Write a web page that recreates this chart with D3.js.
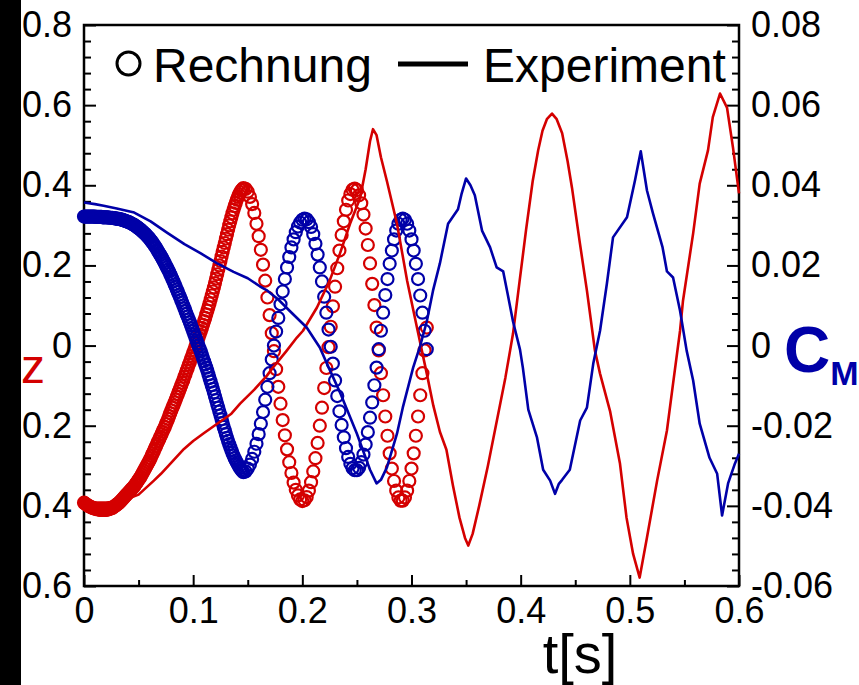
<!DOCTYPE html>
<html>
<head>
<meta charset="utf-8">
<script src="https://cdn.jsdelivr.net/npm/d3@7"></script>
<style>
  body { margin: 0; background: #fff; }
  svg { display: block; }
</style>
</head>
<body>
<div class="chart"></div>
<script>
var width = 859,
    height = 685;

var red = "#d40000",
    blue = "#0000a8";

// Rechnung, part 1: one value every 1 ms from t = 0 to 0.146
var rechStartA = 0,
    rechStepA = 0.001;

var rechZA = [
  -0.392,-0.394,-0.396,-0.398,-0.400,-0.401,-0.403,-0.404,-0.405,-0.406,
  -0.407,-0.408,-0.408,-0.409,-0.409,-0.410,-0.410,-0.410,-0.410,-0.410,
  -0.410,-0.409,-0.409,-0.408,-0.407,-0.406,-0.405,-0.403,-0.401,-0.399,
  -0.397,-0.395,-0.393,-0.390,-0.387,-0.384,-0.381,-0.378,-0.375,-0.372,
  -0.369,-0.366,-0.363,-0.360,-0.357,-0.354,-0.351,-0.347,-0.343,-0.339,
  -0.335,-0.331,-0.327,-0.322,-0.317,-0.312,-0.307,-0.302,-0.297,-0.292,
  -0.287,-0.281,-0.275,-0.269,-0.263,-0.257,-0.251,-0.245,-0.239,-0.233,
  -0.227,-0.221,-0.215,-0.209,-0.203,-0.196,-0.190,-0.183,-0.176,-0.169,
  -0.162,-0.155,-0.149,-0.142,-0.135,-0.128,-0.121,-0.114,-0.107,-0.100,
  -0.093,-0.086,-0.078,-0.071,-0.063,-0.056,-0.048,-0.041,-0.033,-0.026,
  -0.018,-0.011,-0.003,0.005,0.012,0.020,0.028,0.036,0.044,0.052,
  0.061,0.069,0.078,0.087,0.096,0.105,0.115,0.125,0.135,0.145,
  0.156,0.167,0.178,0.189,0.200,0.211,0.222,0.234,0.245,0.256,
  0.267,0.278,0.289,0.300,0.310,0.320,0.330,0.339,0.348,0.356,
  0.364,0.371,0.377,0.382,0.387,0.390,0.393
];

var rechCMA = [
  0.0322,0.0322,0.0322,0.0322,0.0322,0.0322,0.0322,0.0322,0.0322,0.0322,
  0.0322,0.0321,0.0321,0.0321,0.0321,0.0321,0.0321,0.0320,0.0320,0.0320,
  0.0320,0.0320,0.0320,0.0319,0.0319,0.0319,0.0319,0.0318,0.0318,0.0317,
  0.0317,0.0316,0.0316,0.0315,0.0315,0.0314,0.0313,0.0312,0.0311,0.0310,
  0.0309,0.0308,0.0307,0.0305,0.0304,0.0302,0.0301,0.0299,0.0297,0.0295,
  0.0293,0.0291,0.0289,0.0286,0.0284,0.0281,0.0279,0.0276,0.0273,0.0270,
  0.0267,0.0263,0.0260,0.0256,0.0252,0.0248,0.0244,0.0239,0.0235,0.0230,
  0.0226,0.0221,0.0216,0.0211,0.0206,0.0200,0.0195,0.0189,0.0184,0.0178,
  0.0172,0.0166,0.0160,0.0153,0.0147,0.0140,0.0134,0.0127,0.0121,0.0114,
  0.0107,0.0100,0.0093,0.0086,0.0079,0.0072,0.0065,0.0058,0.0051,0.0043,
  0.0036,0.0028,0.0021,0.0013,0.0006,-0.0001,-0.0008,-0.0015,-0.0023,-0.0031,
  -0.0039,-0.0047,-0.0055,-0.0063,-0.0072,-0.0081,-0.0090,-0.0099,-0.0108,-0.0117,
  -0.0127,-0.0136,-0.0146,-0.0155,-0.0165,-0.0174,-0.0184,-0.0193,-0.0203,-0.0212,
  -0.0221,-0.0230,-0.0238,-0.0246,-0.0254,-0.0261,-0.0268,-0.0275,-0.0281,-0.0287,
  -0.0292,-0.0297,-0.0302,-0.0306,-0.0310,-0.0313,-0.0316
];

// Rechnung, part 2: one value every 2 ms from t = 0.148 to 0.314
var rechStartB = 0.148,
    rechStepB = 0.002;

var rechZB = [
  0.391,0.384,0.371,0.353,0.331,0.304,
  0.273,0.239,0.202,0.162,0.120,0.076,0.031,-0.014,-0.059,-0.103,
  -0.145,-0.186,-0.224,-0.259,-0.291,-0.318,-0.342,-0.360,-0.374,-0.384,
  -0.388,-0.386,-0.378,-0.362,-0.341,-0.314,-0.281,-0.243,-0.200,-0.155,
  -0.106,-0.056,-0.004,0.047,0.098,0.147,0.193,0.237,0.276,0.310,
  0.339,0.362,0.378,0.389,0.392,0.388,0.375,0.355,0.327,0.292,
  0.251,0.205,0.154,0.101,0.045,-0.012,-0.069,-0.124,-0.177,-0.225,
  -0.269,-0.307,-0.338,-0.362,-0.379,-0.387,-0.387,-0.379,-0.362,-0.338,
  -0.307,-0.269,-0.225,-0.177,-0.124,-0.069,-0.012,0.045
];

var rechCMB = [
  -0.0314,-0.0307,-0.0297,-0.0283,-0.0265,-0.0245,
  -0.0221,-0.0195,-0.0166,-0.0135,-0.0103,-0.0069,-0.0035,0.0000,0.0035,0.0069,
  0.0103,0.0135,0.0166,0.0195,0.0221,0.0245,0.0265,0.0283,0.0297,0.0307,
  0.0314,0.0317,0.0315,0.0308,0.0296,0.0278,0.0254,0.0227,0.0195,0.0160,
  0.0122,0.0082,0.0040,-0.0003,-0.0045,-0.0087,-0.0126,-0.0164,-0.0198,-0.0229,
  -0.0256,-0.0278,-0.0295,-0.0306,-0.0311,-0.0311,-0.0305,-0.0291,-0.0272,-0.0247,
  -0.0216,-0.0180,-0.0142,-0.0099,-0.0055,-0.0009,0.0037,0.0082,0.0126,0.0166,
  0.0204,0.0237,0.0265,0.0287,0.0304,0.0314,0.0317,0.0314,0.0304,0.0287,
  0.0265,0.0237,0.0204,0.0166,0.0125,0.0082,0.0037,-0.0009
];

// Experiment: [t, value]
var expZ = [
  [0.000,-0.392],[0.020,-0.392],[0.035,-0.388],[0.050,-0.372],[0.064,-0.337],
  [0.0705,-0.320],[0.080,-0.292],[0.0916,-0.258],[0.100,-0.238],[0.110,-0.218],
  [0.1246,-0.190],[0.135,-0.170],[0.143,-0.145],[0.156,-0.110],[0.1676,-0.075],
  [0.173,-0.055],[0.185,-0.015],[0.195,0.020],[0.2006,0.037],[0.2134,0.095],
  [0.225,0.162],[0.2345,0.230],[0.2437,0.304],[0.253,0.369],[0.258,0.440],
  [0.262,0.510],[0.2647,0.540],[0.268,0.525],[0.272,0.470],[0.2775,0.410],
  [0.2867,0.304],[0.296,0.162],[0.305,0.045],[0.314,-0.070],[0.320,-0.150],
  [0.326,-0.215],[0.332,-0.260],[0.338,-0.350],[0.344,-0.430],[0.349,-0.480],
  [0.352,-0.499],[0.356,-0.470],[0.362,-0.400],[0.370,-0.300],[0.378,-0.190],
  [0.386,-0.080],[0.393,0.030],[0.399,0.160],[0.405,0.290],[0.411,0.410],
  [0.416,0.487],[0.420,0.536],[0.424,0.565],[0.4287,0.579],[0.433,0.565],
  [0.438,0.530],[0.443,0.460],[0.447,0.394],[0.454,0.260],[0.4607,0.137],
  [0.468,-0.012],[0.4727,-0.070],[0.482,-0.165],[0.491,-0.295],[0.497,-0.430],
  [0.503,-0.520],[0.509,-0.579],[0.5157,-0.479],[0.525,-0.337],[0.534,-0.212],
  [0.5396,-0.095],[0.546,0.037],[0.5487,0.112],[0.558,0.280],[0.564,0.404],
  [0.5716,0.487],[0.576,0.570],[0.5826,0.629],[0.589,0.594],[0.5945,0.494],
  [0.600,0.380]
];

var expCM = [
  [0.000,0.0357],[0.010,0.0353],[0.018,0.0349],[0.030,0.0342],[0.046,0.0332],
  [0.061,0.0310],[0.076,0.0282],[0.092,0.0253],[0.107,0.0230],[0.122,0.0205],
  [0.137,0.0184],[0.150,0.0168],[0.161,0.0148],[0.168,0.0137],[0.178,0.0115],
  [0.189,0.0085],[0.204,0.0045],[0.216,-0.0005],[0.225,-0.0060],[0.235,-0.0120],
  [0.250,-0.0220],[0.262,-0.0310],[0.268,-0.0344],[0.272,-0.0335],[0.2775,-0.0304],
  [0.2867,-0.0220],[0.292,-0.0155],[0.3015,-0.0055],[0.308,0.0000],[0.314,0.0060],
  [0.3197,0.0137],[0.326,0.0205],[0.3335,0.0304],[0.3426,0.0340],[0.346,0.0380],
  [0.350,0.0417],[0.354,0.0400],[0.358,0.0375],[0.3646,0.0287],[0.372,0.0245],
  [0.378,0.0195],[0.384,0.0185],[0.388,0.0130],[0.393,0.0060],[0.3994,-0.0010],
  [0.402,-0.0055],[0.407,-0.0160],[0.415,-0.0230],[0.4206,-0.0310],[0.427,-0.0337],
  [0.4315,-0.0370],[0.435,-0.0345],[0.438,-0.0335],[0.445,-0.0310],[0.4545,-0.0187],
  [0.4607,-0.0155],[0.4665,-0.0045],[0.4727,0.0037],[0.479,0.0155],[0.4846,0.0270],
  [0.4974,0.0320],[0.5047,0.0412],[0.510,0.0485],[0.5157,0.0387],[0.5212,0.0330],
  [0.530,0.0245],[0.534,0.0185],[0.5396,0.0170],[0.546,0.0087],[0.552,-0.0012],
  [0.558,-0.0087],[0.564,-0.0195],[0.573,-0.0280],[0.580,-0.0320],[0.5845,-0.0424],
  [0.590,-0.0344],[0.5963,-0.0294],[0.600,-0.0270]
];

// Axis ticks and their labels
var xTicks = [0, 0.1, 0.2, 0.3, 0.4, 0.5, 0.6],
    xLabels = ["0", "0.1", "0.2", "0.3", "0.4", "0.5", "0.6"];
var zTicks = [-0.6, -0.4, -0.2, 0, 0.2, 0.4, 0.6, 0.8],
    zLabels = ["-0.6", "-0.4", "-0.2", "0", "0.2", "0.4", "0.6", "0.8"];
var cmTicks = [-0.06, -0.04, -0.02, 0, 0.02, 0.04, 0.06, 0.08],
    cmLabels = ["-0.06", "-0.04", "-0.02", "0", "0.02", "0.04", "0.06", "0.08"];

var font = '"Liberation Sans", Arial, Helvetica, sans-serif';

var plot = { left: 84, right: 739, top: 25, bottom: 586 };

var svg = d3.select(".chart")
  .append("svg")
    .attr("width", width)
    .attr("height", height);

var x = d3.scaleLinear().domain([0, 0.6]).range([plot.left, plot.right]);
var yZ = d3.scaleLinear().domain([-0.6, 0.8]).range([plot.bottom, plot.top]);
var yCM = d3.scaleLinear().domain([-0.06, 0.08]).range([plot.bottom, plot.top]);

// minor tick positions between the labelled ones
var xMinor = d3.range(0.05, 0.6, 0.1);
var zMinor = d3.range(-0.6, 0.8001, 0.04).filter(function(v) { return Math.abs(v / 0.2 - Math.round(v / 0.2)) > 0.01; });
var cmMinor = d3.range(-0.06, 0.08001, 0.004).filter(function(v) { return Math.abs(v / 0.02 - Math.round(v / 0.02)) > 0.01; });

function styleAxis(g) {
  g.select(".domain").remove();
  g.selectAll("line").attr("stroke", "#000").attr("stroke-width", 2);
  g.attr("font-family", font).attr("font-size", 36);
  g.selectAll("text").attr("fill", "#000");
}

// bottom axis
svg.append("g")
  .attr("transform", "translate(0," + plot.bottom + ")")
  .call(d3.axisBottom(x).tickValues(xMinor).tickSize(-6).tickFormat(""))
  .call(styleAxis);
svg.append("g")
  .attr("transform", "translate(0," + plot.bottom + ")")
  .call(d3.axisBottom(x).tickValues(xTicks).tickSize(-11).tickPadding(11)
    .tickFormat(function(d, i) { return xLabels[i]; }))
  .call(styleAxis);

// left axis (z)
svg.append("g")
  .attr("transform", "translate(" + plot.left + ",0)")
  .call(d3.axisLeft(yZ).tickValues(zMinor).tickSize(-7).tickFormat(""))
  .call(styleAxis);
svg.append("g")
  .attr("transform", "translate(" + plot.left + ",0)")
  .call(d3.axisLeft(yZ).tickValues(zTicks).tickSize(-12).tickPadding(12)
    .tickFormat(function(d, i) { return zLabels[i]; }))
  .call(styleAxis);

// right axis (C_M)
svg.append("g")
  .attr("transform", "translate(" + plot.right + ",0)")
  .call(d3.axisRight(yCM).tickValues(cmMinor).tickSize(-7).tickFormat(""))
  .call(styleAxis);
svg.append("g")
  .attr("transform", "translate(" + plot.right + ",0)")
  .call(d3.axisRight(yCM).tickValues(cmTicks).tickSize(-12).tickPadding(12)
    .tickFormat(function(d, i) { return cmLabels[i]; }))
  .call(styleAxis);

// frame
svg.append("rect")
  .attr("x", plot.left)
  .attr("y", plot.top)
  .attr("width", plot.right - plot.left)
  .attr("height", plot.bottom - plot.top)
  .attr("fill", "none")
  .attr("stroke", "#000")
  .attr("stroke-width", 2.5);

// Rechnung circles: join both parts with their time stamps
function withTime(a, startA, stepA, b, startB, stepB) {
  var pts = a.map(function(v, i) { return { t: startA + i * stepA, v: v }; });
  return pts.concat(b.map(function(v, i) { return { t: startB + i * stepB, v: v }; }));
}

var rechZ = withTime(rechZA, rechStartA, rechStepA, rechZB, rechStartB, rechStepB);
var rechCM = withTime(rechCMA, rechStartA, rechStepA, rechCMB, rechStartB, rechStepB);

svg.append("g").selectAll("circle")
  .data(rechZ)
  .enter()
  .append("circle")
  .attr("cx", function(d) { return x(d.t); })
  .attr("cy", function(d) { return yZ(d.v); })
  .attr("r", 6)
  .attr("fill", "none")
  .attr("stroke", red)
  .attr("stroke-width", 2.2);

svg.append("g").selectAll("circle")
  .data(rechCM)
  .enter()
  .append("circle")
  .attr("cx", function(d) { return x(d.t); })
  .attr("cy", function(d) { return yCM(d.v); })
  .attr("r", 6)
  .attr("fill", "none")
  .attr("stroke", blue)
  .attr("stroke-width", 2.2);

// Experiment lines
var lineZ = d3.line()
  .x(function(d) { return x(d[0]); })
  .y(function(d) { return yZ(d[1]); });
var lineCM = d3.line()
  .x(function(d) { return x(d[0]); })
  .y(function(d) { return yCM(d[1]); });

svg.append("path")
  .datum(expZ)
  .attr("d", lineZ)
  .attr("fill", "none")
  .attr("stroke", red)
  .attr("stroke-width", 2.6)
  .attr("stroke-linejoin", "round");

svg.append("path")
  .datum(expCM)
  .attr("d", lineCM)
  .attr("fill", "none")
  .attr("stroke", blue)
  .attr("stroke-width", 2.6)
  .attr("stroke-linejoin", "round");

// legend
svg.append("circle")
  .attr("cx", 128.5)
  .attr("cy", 63.5)
  .attr("r", 11.5)
  .attr("fill", "none")
  .attr("stroke", "#000")
  .attr("stroke-width", 3);
svg.append("text")
  .attr("x", 153)
  .attr("y", 82)
  .attr("font-family", font)
  .attr("font-size", 48)
  .text("Rechnung");
svg.append("line")
  .attr("x1", 398).attr("x2", 468)
  .attr("y1", 64).attr("y2", 64)
  .attr("stroke", "#000")
  .attr("stroke-width", 5);
svg.append("text")
  .attr("x", 483)
  .attr("y", 82)
  .attr("font-family", font)
  .attr("font-size", 48)
  .text("Experiment");

// axis titles
svg.append("text")
  .attr("x", 580)
  .attr("y", 673)
  .attr("text-anchor", "middle")
  .attr("font-family", font)
  .attr("font-size", 56)
  .text("t[s]");

svg.append("text")
  .attr("x", 21)
  .attr("y", 383)
  .attr("font-family", font)
  .attr("font-size", 48)
  .attr("fill", red)
  .text("z");

var cm = svg.append("text")
  .attr("x", 784)
  .attr("y", 372)
  .attr("font-family", font)
  .attr("font-weight", "bold")
  .attr("fill", blue);
cm.append("tspan").attr("font-size", 64).text("C");
cm.append("tspan").attr("font-size", 34).attr("dy", 13).text("M");

// black strip along the left edge of the picture
svg.append("rect")
  .attr("x", 0)
  .attr("y", 0)
  .attr("width", 21)
  .attr("height", height)
  .attr("fill", "#000");
</script>
</body>
</html>
